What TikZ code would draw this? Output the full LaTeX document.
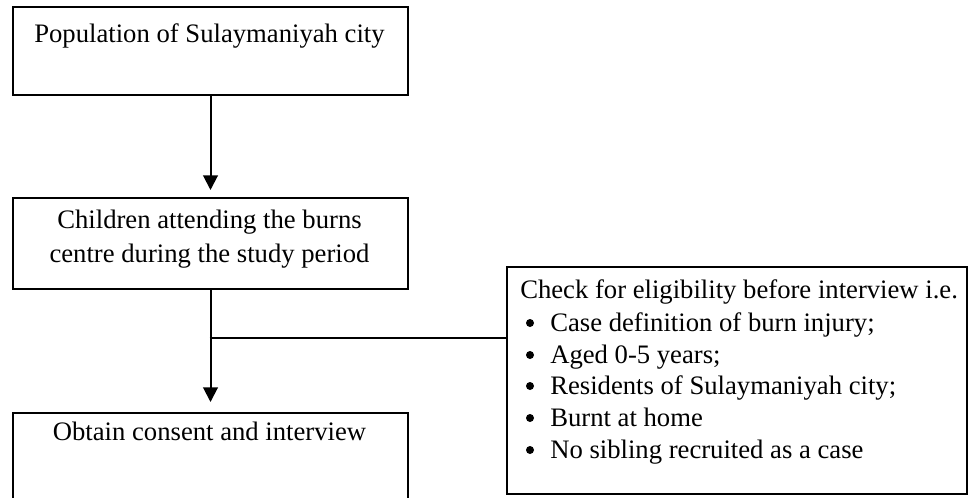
\documentclass[tikz,border=0pt]{standalone}
\usepackage{fontspec}
\setmainfont{Liberation Serif}
\usetikzlibrary{arrows.meta}
\begin{document}
\begin{tikzpicture}[x=0.75pt,y=-0.75pt,
  box/.style={draw, line width=1.5pt, rectangle, anchor=north west, inner sep=0pt},
  lbl/.style={font=\fontsize{20}{24}\selectfont, inner sep=0pt, anchor=base},
  lbll/.style={lbl, anchor=base west},
  conn/.style={line width=1.5pt},
  arr/.style={conn, -{Triangle[length=11pt,width=11pt]}},
  bulletdot/.style={fill=black}]
\useasboundingbox (0,0) rectangle (968,497);
\clip (0,0) rectangle (968,497);
% boxes
\node[box, minimum width=296.25pt, minimum height=66pt] (b1) at (12,6) {};
\node[box, minimum width=296.25pt, minimum height=68.25pt] (b2) at (12,197) {};
\node[box, minimum width=296.25pt, minimum height=72pt] (b4) at (12,412) {};
\node[box, minimum width=345pt, minimum height=170.25pt] (rb) at (506,266) {};
% texts
\node[lbl] (t1) at (209.5,42) {Population of Sulaymaniyah city};
\node[lbl] (t2a) at (209.5,228) {Children attending the burns};
\node[lbl] (t2b) at (209.5,262) {centre during the study period};
\node[lbl] (t4) at (209.5,440) {Obtain consent and interview};
\node[lbll] (r0) at (520,298) {Check for eligibility before interview i.e.};
\node[lbll] (r1) at (550,331) {Case definition of burn injury;};
\node[lbll] (r2) at (550,363) {Aged 0-5 years;};
\node[lbll] (r3) at (550,394) {Residents of Sulaymaniyah city;};
\node[lbll] (r4) at (550,426) {Burnt at home};
\node[lbll] (r5) at (550,458) {No sibling recruited as a case};
% bullets
\foreach \r in {r1,r2,r3,r4,r5}
  \fill[bulletdot] (\r.base west) ++(-20,-8) circle[radius=3pt];
% connectors
\draw[arr] (b1.south) -- ([yshift=5.25pt]b2.north);
\draw[arr] (b2.south) -- ([yshift=7.5pt]b4.north);
\coordinate (j) at (209.5,338);
\draw[conn] (j) -- (j -| rb.west);
\end{tikzpicture}
\end{document}
